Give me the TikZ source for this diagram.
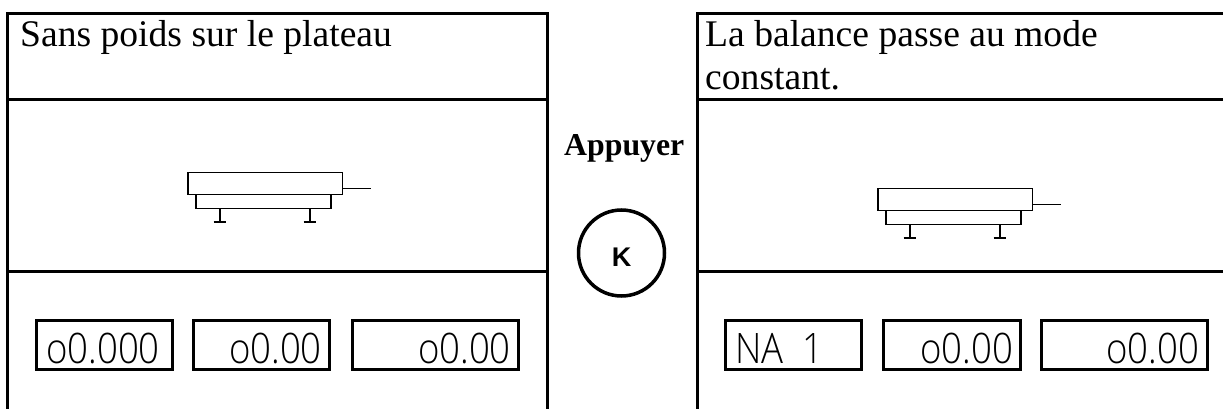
\documentclass[tikz,border=0pt]{standalone}
\usepackage{fontspec}
\setmainfont{Liberation Serif}
\newfontfamily\dispfont{Liberation Sans}
\newfontfamily\lcdfont{Open Sans Light}
\tikzset{
  x=1pt,y=-1pt,
  rule/.style={line width=3pt,black},
  dispbox/.style={line width=3pt,black},
  thin part/.style={line width=1.8pt,black},
  foot/.style={line width=2.5pt,black},
  title/.style={inner sep=0pt,anchor=base west,font=\fontsize{37.6}{40}\selectfont},
  disp/.style={inner sep=0pt,font=\lcdfont\fontsize{42}{42}\selectfont,xscale=.87},
  dispL/.style={disp,anchor=base west},
  dispR/.style={disp,anchor=base east},
  balance/.pic={
    \draw[thin part] (0,0) rectangle (154.5,22);
    \draw[thin part] (8,22) rectangle (143,36);
    \draw[thin part] (154.5,16) -- (183,16);
    \draw[foot] (32,36) -- (32,50) (122,36) -- (122,50);
    \draw[foot] (25.5,49.5) -- (37.5,49.5) (115.5,49.5) -- (127.5,49.5);
  }
}
\begin{document}
\begin{tikzpicture}
\useasboundingbox (0,0) rectangle (1223,409);
% left panel
\draw[rule] (7.5,409) -- (7.5,13.5) -- (547.5,13.5) -- (547.5,409);
\draw[rule] (7.5,99.5) -- (547.5,99.5);
\draw[rule] (7.5,271) -- (547.5,271);
% right panel
\draw[rule] (697.5,409) -- (697.5,13.5) -- (1223,13.5);
\draw[rule] (697.5,99.5) -- (1223,99.5);
\draw[rule] (697.5,271) -- (1223,271);
% titles
\node[title] (t1) at (20,47) {Sans poids sur le plateau};
\node[title] (t2) at (705,47) {La balance passe au mode};
\node[title] (t3) at (705,89.5) {constant.};
% centre
\node[inner sep=0pt,anchor=base west,font=\bfseries\fontsize{31.8}{34}\selectfont] (app) at (564,155) {Appuyer};
\draw[line width=3.5pt] (621.5,253) circle (43);
\node[inner sep=0pt,anchor=base,font=\dispfont\bfseries\fontsize{27}{27}\selectfont] (k) at (621.5,266.5) {K};
% balances
\pic at (188,172.5) {balance};
\pic at (878,188.5) {balance};
% displays
\foreach \a/\b in {36.5/172.5,193.5/329,352/518,725/861.5,883/1020,1041.5/1207.5}
  \draw[dispbox] (\a,320) rectangle (\b,369);
\node[dispL] (d1) at (46,363) {o0.000};
\node[dispR] (d2) at (322,363) {o0.00};
\node[dispR] (d3) at (511,363) {o0.00};
\node[dispL] (d4) at (735,363) {NA\ \ 1};
\node[dispR] (d5) at (1013,363) {o0.00};
\node[dispR] (d6) at (1199,363) {o0.00};
\end{tikzpicture}
\end{document}
